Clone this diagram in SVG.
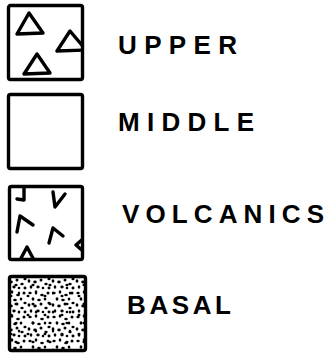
<svg xmlns="http://www.w3.org/2000/svg" width="332" height="357" viewBox="0 0 332 357">
<style>
.box{fill:#fff;stroke:#000;stroke-width:3.4}
.mark{fill:none;stroke:#000;stroke-width:3.4;stroke-linejoin:round;stroke-linecap:round}
.lbl{font-family:"Liberation Sans",Arial,sans-serif;font-weight:bold;font-size:26px;fill:#000}
</style>
<defs>
<clipPath id="c1"><rect x="8.5" y="5.5" width="74" height="74"/></clipPath>
<clipPath id="c3"><rect x="9.5" y="186.5" width="73" height="73"/></clipPath>
<pattern id="dots" width="24" height="24" patternUnits="userSpaceOnUse" x="3" y="2">
<g fill="#000">
<ellipse cx="3" cy="3" rx="1.7" ry="1.3"/>
<ellipse cx="9" cy="2" rx="1.3" ry="1.8"/>
<ellipse cx="15" cy="5" rx="1.8" ry="1.3"/>
<ellipse cx="21" cy="3" rx="1.5" ry="1.5"/>
<ellipse cx="6" cy="9" rx="1.4" ry="1.8"/>
<ellipse cx="12" cy="10" rx="1.8" ry="1.3"/>
<ellipse cx="18" cy="9" rx="1.3" ry="1.6"/>
<ellipse cx="22" cy="13" rx="1.6" ry="1.3"/>
<ellipse cx="2" cy="15" rx="1.4" ry="1.7"/>
<ellipse cx="8" cy="16" rx="1.8" ry="1.4"/>
<ellipse cx="14" cy="14" rx="1.5" ry="1.5"/>
<ellipse cx="19" cy="18" rx="1.7" ry="1.3"/>
<ellipse cx="4" cy="21" rx="1.3" ry="1.7"/>
<ellipse cx="11" cy="21" rx="1.7" ry="1.4"/>
<ellipse cx="16" cy="22" rx="1.3" ry="1.3"/>
<ellipse cx="22" cy="22" rx="1.5" ry="1.4"/>
</g>
</pattern>
<pattern id="dots2" width="17" height="19" patternUnits="userSpaceOnUse" x="7" y="5">
<g fill="#000">
<ellipse cx="4" cy="6" rx="1.5" ry="1.2"/>
<ellipse cx="12" cy="3" rx="1.2" ry="1.6"/>
<ellipse cx="9" cy="14" rx="1.6" ry="1.3"/>
</g>
</pattern>
</defs>
<g id="upper">
<rect class="box" x="8.5" y="5.5" width="74" height="74" rx="2"/>
<g clip-path="url(#c1)">
<polygon class="mark" points="29,13 17,34 43,33"/>
<polygon class="mark" points="70,31 57,51 86,50"/>
<polygon class="mark" points="37,54 24,74 50,73"/>
</g>
<text class="lbl" x="118" y="54" textLength="119" lengthAdjust="spacing">UPPER</text>
</g>
<g id="middle">
<rect class="box" x="8.5" y="94.5" width="74" height="74" rx="2"/>
<text class="lbl" x="118" y="131" font-size="24" textLength="136" lengthAdjust="spacing">MIDDLE</text>
</g>
<g id="volcanics">
<rect class="box" x="9.5" y="186.5" width="73" height="73" rx="2"/>
<g clip-path="url(#c3)">
<polyline class="mark" points="24,188 24,200 17,199"/>
<polyline class="mark" points="53,192 55,207 65,194"/>
<polyline class="mark" points="17,232 20,216 33,225"/>
<polyline class="mark" points="49,243 53,228 63,236"/>
<polygon class="mark" points="27,247 19,262 35,262"/>
<polyline class="mark" points="84,238 76,245 84,252"/>
</g>
<text class="lbl" x="122" y="223" font-size="25" textLength="202" lengthAdjust="spacing">VOLCANICS</text>
</g>
<g id="basal">
<rect class="box" x="9.5" y="276.5" width="76" height="74" rx="2"/>
<rect x="11" y="278" width="73" height="71" fill="url(#dots)"/>
<rect x="11" y="278" width="73" height="71" fill="url(#dots2)"/>
<text class="lbl" x="127" y="314" textLength="104" lengthAdjust="spacing">BASAL</text>
</g>
<g id="connectors"/>
</svg>
